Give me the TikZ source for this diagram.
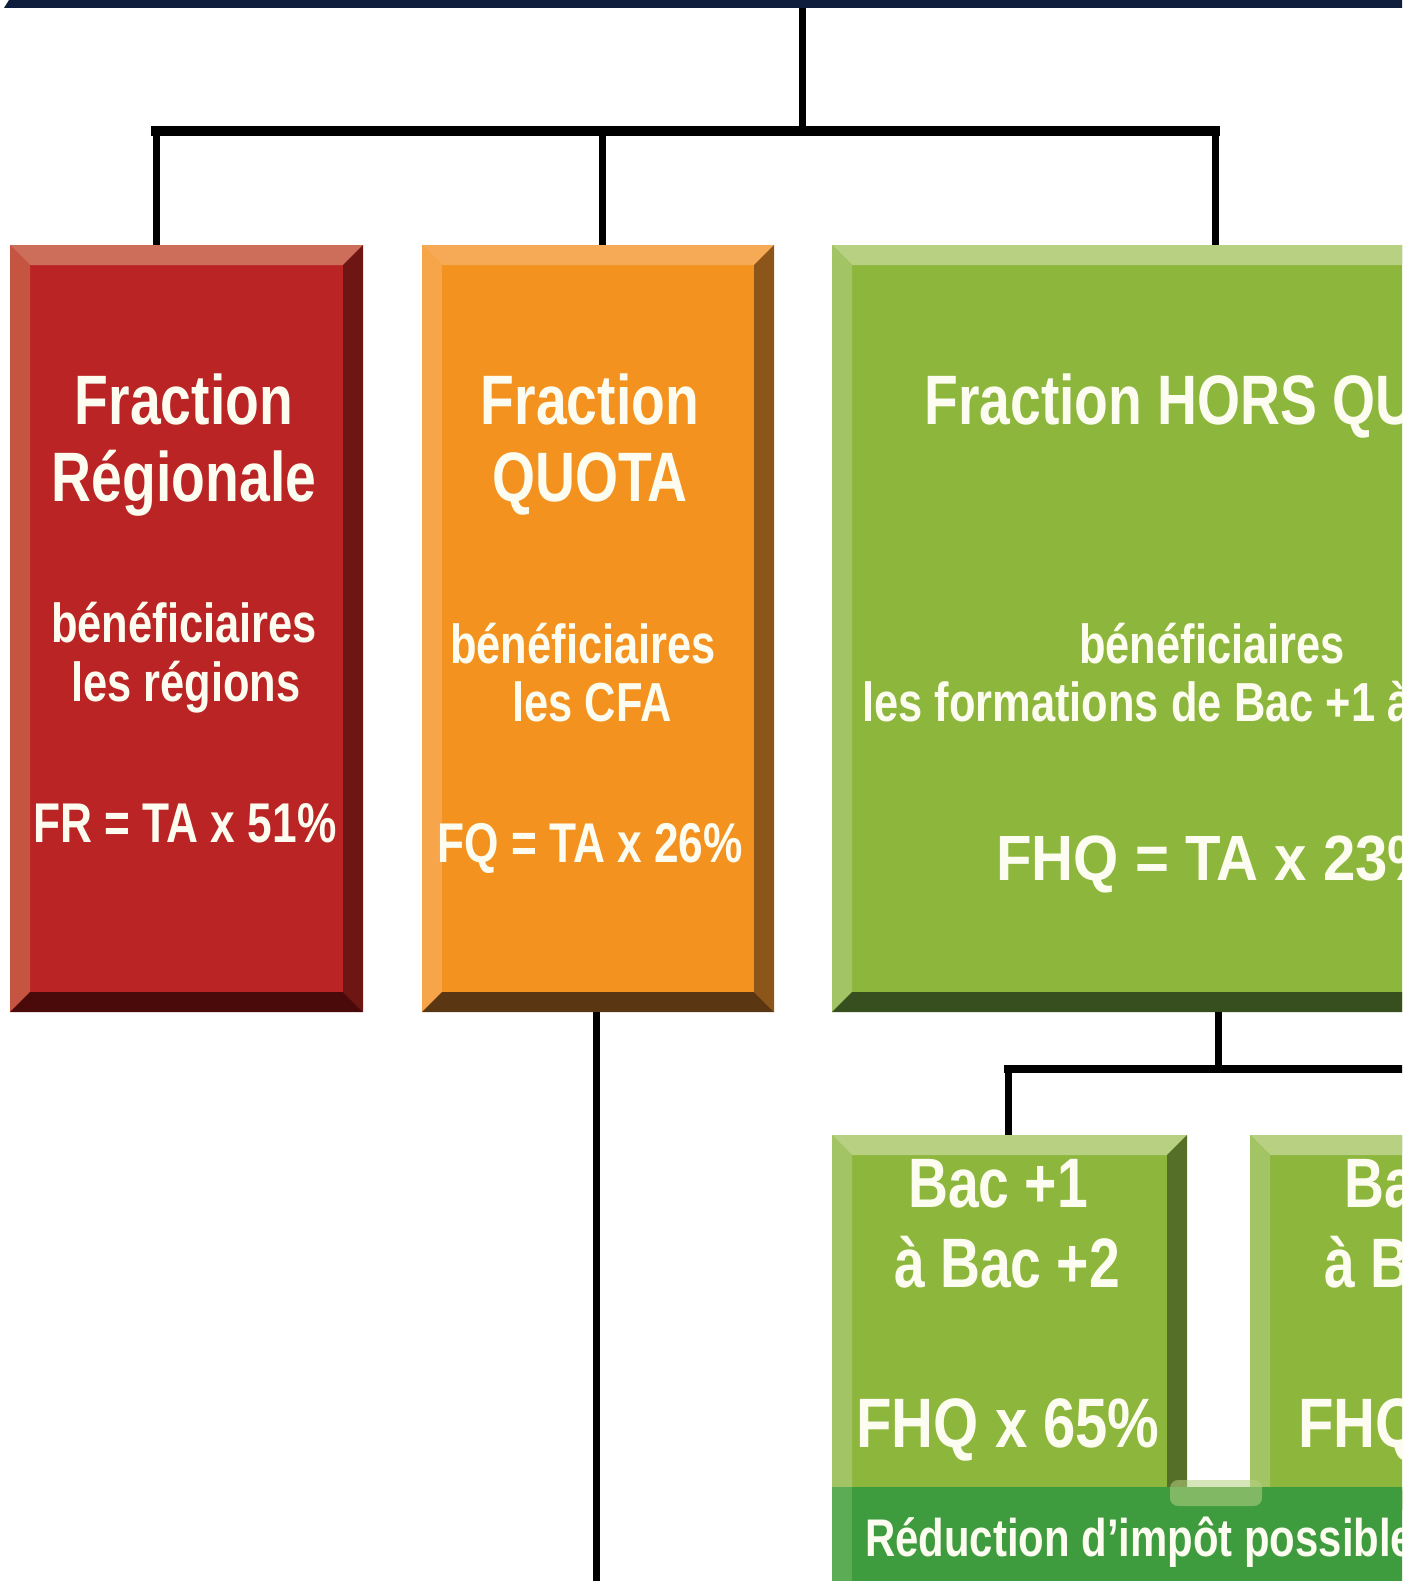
\documentclass[tikz,border=0pt]{standalone}
\usepackage{fontspec}
\setmainfont{Liberation Sans}[FakeStretch=0.79]
\definecolor{navy}{RGB}{15,30,60}
\definecolor{redface}{RGB}{186,36,36}
\definecolor{redtop}{RGB}{205,110,90}
\definecolor{redleft}{RGB}{197,85,65}
\definecolor{redright}{RGB}{110,22,20}
\definecolor{redbottom}{RGB}{75,10,10}
\definecolor{orface}{RGB}{243,146,30}
\definecolor{ortop}{RGB}{247,170,85}
\definecolor{orleft}{RGB}{246,165,75}
\definecolor{orright}{RGB}{140,85,25}
\definecolor{orbottom}{RGB}{90,55,18}
\definecolor{grface}{RGB}{141,182,60}
\definecolor{grtop}{RGB}{183,208,130}
\definecolor{grleft}{RGB}{163,196,100}
\definecolor{grright}{RGB}{85,110,40}
\definecolor{grbottom}{RGB}{55,78,30}
\definecolor{bandgreen}{RGB}{62,155,62}
\definecolor{bandleft}{RGB}{92,172,86}
\definecolor{txt}{RGB}{253,252,240}

% bevelled edges round a box node: node, top, left, right, bottom
\newcommand{\bevel}[5]{%
\fill[#2] (#1.north west) -- (#1.north east) -- ([shift={(-20,20)}]#1.north east) -- ([shift={(20,20)}]#1.north west) -- cycle;
\fill[#3] (#1.north west) -- ([shift={(20,20)}]#1.north west) -- ([shift={(20,-20)}]#1.south west) -- (#1.south west) -- cycle;
\fill[#4] (#1.north east) -- ([shift={(-20,20)}]#1.north east) -- ([shift={(-20,-20)}]#1.south east) -- (#1.south east) -- cycle;
\fill[#5] (#1.south west) -- ([shift={(20,-20)}]#1.south west) -- ([shift={(-20,-20)}]#1.south east) -- (#1.south east) -- cycle;}

\begin{document}
\begin{tikzpicture}[x=1pt,y=-1pt,
  box/.style={rectangle,inner sep=0pt,outer sep=0pt,minimum height=767pt},
  link/.style={line width=7pt},
  bar/.style={line width=10pt,line cap=rect},
  ttl/.style={text=txt,inner sep=0pt,anchor=base,font=\bfseries\fontsize{70}{80}\selectfont},
  sub/.style={ttl,font=\bfseries\fontsize{55}{60}\selectfont},
  frm/.style={ttl,font=\bfseries\fontsize{56}{60}\selectfont},
  bigfrm/.style={ttl,font=\bfseries\fontsize{64}{70}\selectfont},
  bandtxt/.style={ttl,font=\bfseries\fontsize{53}{60}\selectfont}]
\useasboundingbox (0,0) rectangle (1417,1581);
\begin{scope}
\clip (0,0) rectangle (1402,1581);

\node[fill=navy,inner sep=0pt,outer sep=0pt,minimum width=1500pt,minimum height=8pt,anchor=north west] (ta) at (9,0) {};
\fill[navy] (ta.north west) -- (ta.south west) -- ++(-5,0) -- cycle;

\coordinate (split) at (802,131);
\coordinate (jl) at (156,131);
\coordinate (jm) at (602,136);
\coordinate (jr) at (1215,131);
\coordinate (fqend) at (596,1600);
\coordinate (hsplit) at (1218,1069);
\coordinate (hl) at (1008,1069);
\coordinate (hr) at (1500,1069);

\node[box,fill=redface,minimum width=353pt] (fr) at (186.5,628.5) {};
\bevel{fr}{redtop}{redleft}{redright}{redbottom}
\node[box,fill=orface,minimum width=352pt] (fq) at (598,628.5) {};
\bevel{fq}{ortop}{orleft}{orright}{orbottom}
\node[box,fill=grface,minimum width=768pt] (fhq) at (1216,628.5) {};
\bevel{fhq}{grtop}{grleft}{grright}{grbottom}

\node[box,fill=grface,minimum width=355pt,minimum height=375pt] (b12) at (1009.5,1322.5) {};
\bevel{b12}{grtop}{grleft}{grright}{grbottom}
\node[box,fill=grface,minimum width=355pt,minimum height=375pt] (b35) at (1427.5,1322.5) {};
\bevel{b35}{grtop}{grleft}{grright}{grbottom}

\node[box,fill=bandgreen,minimum width=768pt,minimum height=120pt,anchor=north west] (band) at (832,1487) {};
\fill[bandleft] (band.north west) rectangle ([xshift=20pt]band.south west);
\fill[grtop,opacity=0.55,rounded corners=8pt] (1170,1480) rectangle (1262,1506);

\draw[link] (ta.south -| split) -- (split);
\draw[bar] (jl) -- (jr);
\draw[link] (jl) -- (jl |- fr.north);
\draw[link] (jm) -- (jm |- fq.north);
\draw[link] (jr) -- (jr |- fhq.north);
\draw[link] (fq.south -| fqend) -- (fqend);
\draw[link] (fhq.south -| hsplit) -- (hsplit);
\draw[link,line width=8pt,line cap=rect] (hl) -- (hr);
\draw[link] (hl) -- (hl |- b12.north);

\node[ttl] (frt1) at (184,424) {Fraction};
\node[ttl] (frt2) at (184,501) {Régionale};
\node[sub] (frs1) at (184,642) {bénéficiaires};
\node[sub] (frs2) at (186,701) {les régions};
\node[frm] (frf) at (185,842) {FR = TA x 51\%};

\node[ttl] (fqt1) at (590,424) {Fraction};
\node[ttl] (fqt2) at (590,501) {QUOTA};
\node[sub] (fqs1) at (583,663) {bénéficiaires};
\node[sub] (fqs2) at (592,721) {les CFA};
\node[frm] (fqf) at (590,862) {FQ = TA x 26\%};

\node[ttl,anchor=base west] (fhqt) at (924,424) {Fraction HORS QUOTA};
\node[sub] (fhqs1) at (1212,663) {bénéficiaires};
\node[sub,anchor=base west] (fhqs2) at (862,721) {les formations de Bac +1 à Bac +5};
\node[bigfrm,anchor=base west] (fhqf) at (996,880) {\scalebox{1.15}[1]{FHQ = TA x 23\%}};

\node[ttl] (b12t1) at (998,1207) {Bac +1};
\node[ttl] (b12t2) at (1007,1287) {à Bac +2};
\node[ttl] (b12f) at (1008,1447) {\scalebox{1.05}[1]{FHQ x 65\%}};
\node[ttl,anchor=base west] (b35t1) at (1344,1207) {Bac +3};
\node[ttl,anchor=base west] (b35t2) at (1324,1287) {à Bac +5};
\node[ttl,anchor=base west] (b35f) at (1298,1447) {\scalebox{1.05}[1]{FHQ x 35\%}};

\node[bandtxt,anchor=base west] (bandt) at (865,1556) {Réduction d’impôt possible};
\end{scope}
\end{tikzpicture}
\end{document}
